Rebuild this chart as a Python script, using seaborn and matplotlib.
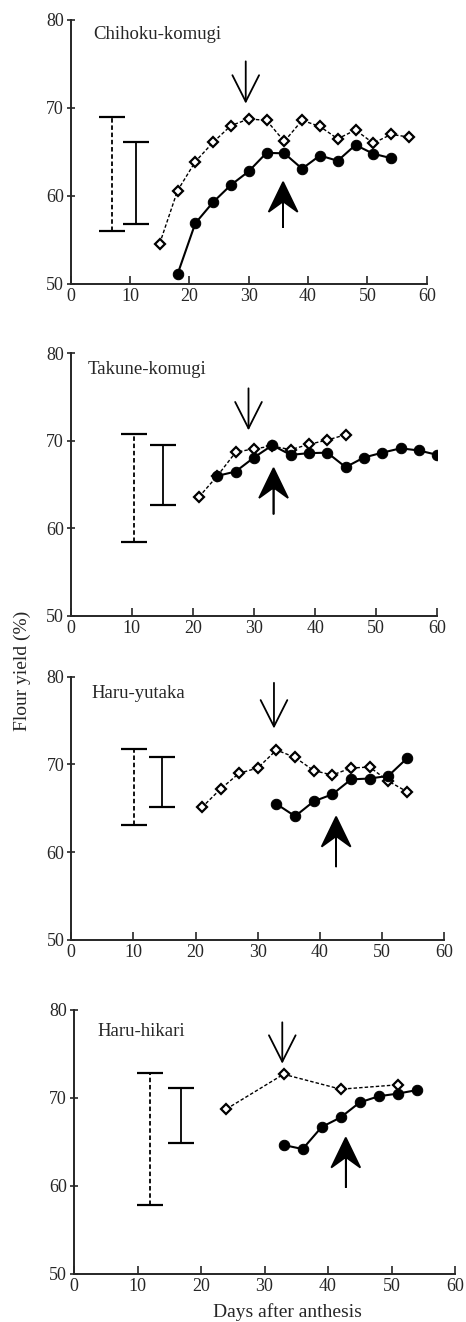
import numpy as np
import pandas as pd
import matplotlib
matplotlib.use('Agg')
import matplotlib.pyplot as plt
import seaborn as sns

# cultivar names, one per panel
cultivars = ['Chihoku-komugi', 'Takune-komugi', 'Haru-yutaka', 'Haru-hikari']

# open diamonds (dashed line): days after anthesis and flour yield
open_days = [
    [15, 18, 21, 24, 27, 30, 33, 36, 39, 42, 45, 48, 51, 54, 57],
    [21, 24, 27, 30, 33, 36, 39, 42, 45],
    [21, 24, 27, 30, 33, 36, 39, 42, 45, 48, 51, 54],
    [24, 33, 42, 51],
]
open_yield = [
    [54.6, 60.6, 63.9, 66.1, 68.0, 68.75, 68.6, 66.2, 68.6, 67.9, 66.5, 67.5, 66.0, 67.0, 66.7],
    [63.6, 66.0, 68.7, 69.1, 69.4, 69.0, 69.6, 70.1, 70.7],
    [65.1, 67.2, 69.0, 69.6, 71.65, 70.8, 69.3, 68.8, 69.6, 69.7, 68.1, 66.9],
    [68.75, 72.7, 71.0, 71.5],
]

# filled circles (solid line)
fill_days = [
    [18, 21, 24, 27, 30, 33, 36, 39, 42, 45, 48, 51, 54],
    [24, 27, 30, 33, 36, 39, 42, 45, 48, 51, 54, 57, 60],
    [33, 36, 39, 42, 45, 48, 51, 54],
    [33, 36, 39, 42, 45, 48, 51, 54],
]
fill_yield = [
    [51.1, 56.9, 59.3, 61.25, 62.8, 64.9, 64.85, 63.1, 64.6, 64.0, 65.8, 64.8, 64.3],
    [66.0, 66.5, 68.1, 69.5, 68.4, 68.6, 68.65, 67.0, 68.1, 68.65, 69.15, 68.9, 68.4],
    [65.5, 64.1, 65.8, 66.6, 68.3, 68.4, 68.7, 70.7],
    [64.66, 64.2, 66.7, 67.8, 69.5, 70.2, 70.5, 70.9],
]

# range bars: (x, low, high) for the dashed and the solid bar
dashed_bar = [(7.0, 56.0, 69.0), (10.4, 58.4, 70.75), (10.1, 63.1, 71.8), (11.9, 57.8, 72.8)]
solid_bar = [(11.0, 56.8, 66.1), (15.1, 62.7, 69.5), (14.6, 65.2, 70.8), (16.85, 64.85, 71.1)]

# arrows: (x, tail, tip)
open_arrow = [(29.5, 75.3, 70.5), (29.1, 76.0, 71.2), (32.6, 79.3, 74.1), (32.8, 78.6, 73.9)]
fill_arrow = [(35.8, 56.4, 61.6), (33.2, 61.6, 66.9), (42.6, 58.3, 64.05), (42.8, 59.8, 65.5)]

# label positions (data coords)
label_pos = [(3.8, 78.3), (2.8, 78.2), (3.3, 78.1), (3.7, 77.6)]

# axes boxes in pixels: left, top, right, bottom
boxes = [(70.7, 20, 426.7, 284), (70.7, 353.3, 437.3, 616),
         (71.3, 676.7, 444.3, 940), (74, 1010, 455, 1274)]

W, H = 466, 1322

sns.set_style('ticks')
plt.rcParams['font.family'] = ['Liberation Serif', 'DejaVu Serif']

fig = plt.figure(figsize=(W / 100, H / 100), dpi=100)

for i, name in enumerate(cultivars):
    l, t, r, b = boxes[i]
    ax = fig.add_axes([l / W, 1 - b / H, (r - l) / W, (b - t) / H])

    # open diamonds, dashed
    sns.lineplot(x=open_days[i], y=open_yield[i], ax=ax, color='black',
                 linestyle=(0, (2.5, 1.5)), lw=1.0, marker='D', markersize=5,
                 markerfacecolor='white', markeredgecolor='black',
                 markeredgewidth=1.6, zorder=3)
    # filled circles, solid
    sns.lineplot(x=fill_days[i], y=fill_yield[i], ax=ax, color='black',
                 lw=1.5, marker='o', markersize=7.5, markerfacecolor='black',
                 markeredgecolor='black', zorder=4)

    # range bars
    for bar, ls in [(dashed_bar[i], (0, (2.5, 1.5))), (solid_bar[i], '-')]:
        x, lo, hi = bar
        eb = ax.errorbar([x], [(lo + hi) / 2], yerr=[(hi - lo) / 2], fmt='none',
                         ecolor='black', elinewidth=1.3, capsize=9.4, capthick=1.6)
        eb[2][0].set_linestyle(ls)

    # harvest arrows
    x, tail, tip = open_arrow[i]
    ax.annotate('', xy=(x, tip), xytext=(x, tail),
                arrowprops=dict(arrowstyle='->,head_length=0.95,head_width=0.48',
                                lw=1.3, color='black', shrinkA=0, shrinkB=0,
                                mutation_scale=20))
    x, tail, tip = fill_arrow[i]
    px_day = (r - l) / 60
    px_pct = (b - t) / 30
    ax.arrow(x, tail, 0, tip - tail, width=0, head_width=29 / px_day,
             head_length=30 / px_pct, overhang=0.35, length_includes_head=True,
             color='black', lw=1.2, zorder=5)

    ax.text(label_pos[i][0], label_pos[i][1], name, fontsize=13.5, va='center')

    ax.set_xlim(0, 60)
    ax.set_ylim(50, 80)
    ax.set_xticks(range(0, 61, 10))
    ax.set_yticks([50, 60, 70, 80])
    ax.tick_params(axis='x', direction='in', length=6, width=1.2, labelsize=13, pad=3)
    ax.tick_params(axis='y', direction='inout', length=6, width=1.2, labelsize=13, pad=2)
    for s in ['left', 'bottom']:
        ax.spines[s].set_linewidth(1.4)
    sns.despine(ax=ax)
    ax.set_xlabel('')
    ax.set_ylabel('')

fig.text(22 / W, 1 - 671 / H, 'Flour yield (%)', rotation=90, fontsize=14,
         ha='center', va='center')
fig.text(287 / W, 1 - 1312 / H, 'Days after anthesis', fontsize=14,
         ha='center', va='center')

fig.savefig('out.png', dpi=100)
